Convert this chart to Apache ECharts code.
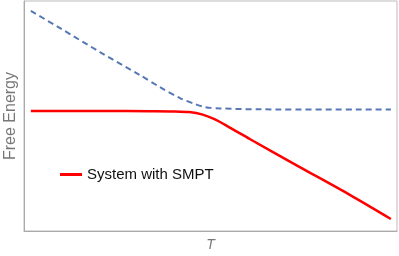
<!DOCTYPE html>
<html><head><meta charset="utf-8">
<script src="https://cdn.jsdelivr.net/npm/echarts@6/dist/echarts.min.js"></script>
<style>html,body{margin:0;padding:0;background:#fff}#c{width:399px;height:256px}</style>
</head><body><div id="c"></div>
<script>
// Temperature samples (arbitrary units)
const tBlue = [0, 0.8, 1.92, 3.03, 3.58, 4.14, 4.56, 4.83, 5.25, 6.36, 10];
const eBlue = [9.57, 8.83, 7.78, 6.78, 6.26, 5.78, 5.52, 5.39, 5.33, 5.29, 5.28];
const tRed = [0, 2.0, 3.3, 4.0, 4.4, 4.75, 5.1, 5.5, 6.08, 7.47, 8.86, 10];
const eRed = [5.22, 5.22, 5.21, 5.20, 5.17, 5.07, 4.86, 4.52, 4.0, 2.78, 1.57, 0.52];
const redName = 'System with SMPT';
const xName = 'T';
const yName = 'Free Energy';

const zip = (a, b) => a.map((v, i) => [v, b[i]]);
const chart = echarts.init(document.getElementById('c'));
const font = 'Liberation Sans, Arial, sans-serif';
chart.setOption({
  animation: false,
  grid: { left: 24, right: 2, top: 1, bottom: 25, show: true, borderColor: '#bbb', borderWidth: 1,
          containLabel: false, outerBoundsMode: 'none' },
  legend: {
    data: [{ name: redName, icon: 'rect' }], left: 55, top: 162, itemWidth: 22, itemHeight: 3, itemGap: 8,
    textStyle: { fontFamily: font, fontSize: 15, color: '#111' }
  },
  xAxis: {
    type: 'value', min: -0.19, max: 10.17,
    name: xName, nameLocation: 'middle', nameGap: 7,
    nameTextStyle: { fontFamily: font, fontSize: 14, fontStyle: 'italic', color: '#777' },
    axisLine: { show: true, onZero: false, lineStyle: { color: '#aaa', width: 1 } },
    axisTick: { show: false }, axisLabel: { show: false }, splitLine: { show: false }
  },
  yAxis: {
    type: 'value', min: 0, max: 10,
    name: yName, nameLocation: 'middle', nameGap: 5,
    nameTextStyle: { fontFamily: font, fontSize: 16, color: '#777' },
    axisLine: { show: true, onZero: false, lineStyle: { color: '#aaa', width: 1 } },
    axisTick: { show: false }, axisLabel: { show: false }, splitLine: { show: false }
  },
  series: [
    { name: 'dashed', type: 'line', data: zip(tBlue, eBlue), smooth: 0.3, symbol: 'none',
      lineStyle: { color: '#5677b5', width: 2, type: [6, 4] } },
    { name: redName, type: 'line', data: zip(tRed, eRed), smooth: 0.3, symbol: 'none',
      itemStyle: { color: '#ff0000' },
      lineStyle: { color: '#ff0000', width: 2.5 } }
  ]
});
</script></body></html>
